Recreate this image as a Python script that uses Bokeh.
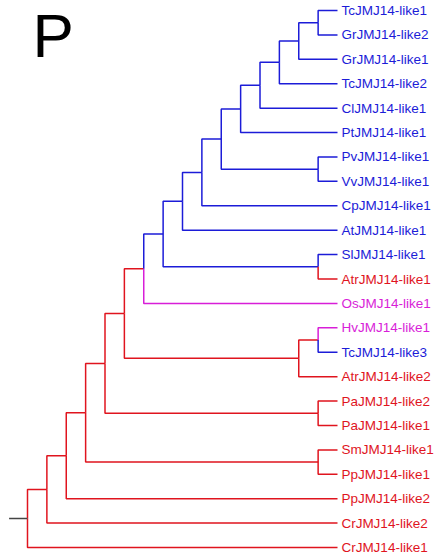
from bokeh.plotting import figure
from bokeh.models import Range1d, Label, ColumnDataSource
from bokeh.embed import file_html
from bokeh.resources import INLINE
from bokeh.core.properties import value

# ---- data ----
newick = ("((((((((((((((((TcJMJ14-like1,GrJMJ14-like2),GrJMJ14-like1),TcJMJ14-like2),"
          "ClJMJ14-like1),PtJMJ14-like1),(PvJMJ14-like1,VvJMJ14-like1)),CpJMJ14-like1),"
          "AtJMJ14-like1),(SlJMJ14-like1,AtrJMJ14-like1)),OsJMJ14-like1),"
          "((HvJMJ14-like1,TcJMJ14-like3),AtrJMJ14-like2)),(PaJMJ14-like2,PaJMJ14-like1)),"
          "(SmJMJ14-like1,PpJMJ14-like1)),PpJMJ14-like2),CrJMJ14-like2),CrJMJ14-like1)")

blue_leaves = ["TcJMJ14-like1", "GrJMJ14-like2", "GrJMJ14-like1", "TcJMJ14-like2",
               "ClJMJ14-like1", "PtJMJ14-like1", "PvJMJ14-like1", "VvJMJ14-like1",
               "CpJMJ14-like1", "AtJMJ14-like1", "SlJMJ14-like1", "TcJMJ14-like3"]
magenta_leaves = ["OsJMJ14-like1", "HvJMJ14-like1"]
blue_clade_first_leaf = "TcJMJ14-like1"
panel_letter = "P"

BLUE = "#1c1cd8"
RED = "#e0141e"
MAGENTA = "#d81ed8"
GREY = "#444444"


# ---- parse newick ----
def parse(s):
    pos = 0

    def node():
        nonlocal pos
        if s[pos] == "(":
            pos += 1
            kids = [node()]
            while s[pos] == ",":
                pos += 1
                kids.append(node())
            pos += 1  # ')'
            return {"children": kids}
        start = pos
        while pos < len(s) and s[pos] not in ",()":
            pos += 1
        return {"name": s[start:pos], "children": []}

    return node()


tree = parse(newick)
leaves = []


def layout(n):
    if not n["children"]:
        n["y"] = len(leaves)
        n["h"] = 0
        leaves.append(n)
    else:
        for c in n["children"]:
            layout(c)
        n["y"] = sum(c["y"] for c in n["children"]) / len(n["children"])
        n["h"] = 1 + max(c["h"] for c in n["children"])


layout(tree)
H = tree["h"]


def leafnames(n):
    if not n["children"]:
        return [n["name"]]
    out = []
    for c in n["children"]:
        out += leafnames(c)
    return out


def colour(n):
    if not n["children"]:
        if n["name"] in blue_leaves:
            return BLUE
        if n["name"] in magenta_leaves:
            return MAGENTA
        return RED
    names = leafnames(n)
    if names[0] in ("PvJMJ14-like1", "SlJMJ14-like1"):
        return BLUE
    if blue_clade_first_leaf in names and "OsJMJ14-like1" not in names:
        return BLUE
    return RED


xs, ys, cols = [], [], []


def branches(n):
    for c in n["children"]:
        px, cx = H - n["h"], H - c["h"]
        xs.append([px, px, cx])
        ys.append([n["y"], c["y"], c["y"]])
        cols.append(colour(c))
        branches(c)


branches(tree)
# root stub
xs.append([-0.95, 0])
ys.append([tree["y"], tree["y"]])
cols.append(GREY)

p = figure(width=434, height=560, output_backend="svg", toolbar_location=None,
           x_range=Range1d(-1.3935, 21.006), y_range=Range1d(22.532, -0.4097),
           min_border=0)
p.axis.visible = False
p.grid.visible = False
p.outline_line_color = None
p.background_fill_color = "white"

p.multi_line(xs=xs, ys=ys, line_color=cols, line_width=1.5)

lab = ColumnDataSource(dict(
    x=[H + 0.2] * len(leaves),
    y=[l["y"] for l in leaves],
    text=[l["name"] for l in leaves],
    color=[colour(l) for l in leaves],
))
p.text(x="x", y="y", text="text", source=lab, text_color="color",
       text_font=value("Liberation Sans"), text_font_size="13.5px",
       text_baseline="middle", text_align="left")

p.add_layout(Label(x=32, y=560, x_units="screen", y_units="screen", text=panel_letter,
                   text_font="Liberation Sans", text_font_size="62px",
                   text_color="black", text_baseline="top"))

open("out.html", "w").write(file_html(p, INLINE))
